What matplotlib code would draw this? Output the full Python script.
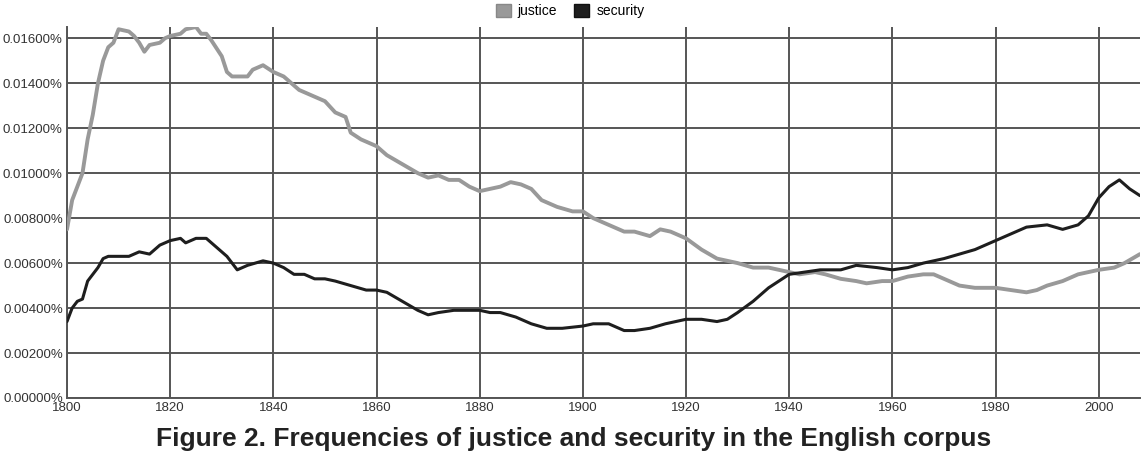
import matplotlib.pyplot as plt
from matplotlib.patches import Patch
from matplotlib.ticker import FuncFormatter

# justice (percent of corpus)
justice_years = [1800, 1801, 1803, 1804, 1805, 1806, 1807, 1808, 1809, 1810,
                 1812, 1813, 1814, 1815, 1816, 1818, 1819, 1820, 1822, 1823,
                 1825, 1826, 1827, 1828, 1830, 1831, 1832, 1834, 1835, 1836,
                 1838, 1840, 1842, 1844, 1845, 1847, 1850, 1852, 1854, 1855,
                 1857, 1860, 1862, 1865, 1868, 1870, 1872, 1874, 1876, 1878,
                 1880, 1882, 1884, 1886, 1888, 1890, 1892, 1895, 1898, 1900,
                 1902, 1905, 1908, 1910, 1913, 1915, 1917, 1920, 1923, 1926,
                 1930, 1933, 1936, 1940, 1942, 1945, 1947, 1950, 1953, 1955,
                 1958, 1960, 1963, 1966, 1968, 1970, 1973, 1976, 1980, 1983,
                 1986, 1988, 1990, 1993, 1996, 2000, 2003, 2005, 2008]
justice = [0.0075, 0.0088, 0.0100, 0.0115, 0.0126, 0.0140, 0.0150, 0.0156, 0.0158, 0.0164,
           0.0163, 0.0161, 0.0158, 0.0154, 0.0157, 0.0158, 0.0160, 0.0161, 0.0162, 0.0164,
           0.0165, 0.0162, 0.0162, 0.0159, 0.0152, 0.0145, 0.0143, 0.0143, 0.0143, 0.0146,
           0.0148, 0.0145, 0.0143, 0.0139, 0.0137, 0.0135, 0.0132, 0.0127, 0.0125, 0.0118,
           0.0115, 0.0112, 0.0108, 0.0104, 0.0100, 0.0098, 0.0099, 0.0097, 0.0097, 0.0094,
           0.0092, 0.0093, 0.0094, 0.0096, 0.0095, 0.0093, 0.0088, 0.0085, 0.0083, 0.0083,
           0.0080, 0.0077, 0.0074, 0.0074, 0.0072, 0.0075, 0.0074, 0.0071, 0.0066, 0.0062,
           0.0060, 0.0058, 0.0058, 0.0056, 0.0055, 0.0056, 0.0055, 0.0053, 0.0052, 0.0051,
           0.0052, 0.0052, 0.0054, 0.0055, 0.0055, 0.0053, 0.0050, 0.0049, 0.0049, 0.0048,
           0.0047, 0.0048, 0.0050, 0.0052, 0.0055, 0.0057, 0.0058, 0.0060, 0.0064]

# security (percent of corpus)
security_years = [1800, 1801, 1802, 1803, 1804, 1805, 1806, 1807, 1808, 1810,
                  1812, 1814, 1816, 1818, 1820, 1822, 1823, 1825, 1827, 1829,
                  1831, 1833, 1835, 1838, 1840, 1842, 1844, 1846, 1848, 1850,
                  1852, 1855, 1858, 1860, 1862, 1865, 1868, 1870, 1872, 1875,
                  1878, 1880, 1882, 1884, 1887, 1890, 1893, 1896, 1900, 1902,
                  1905, 1908, 1910, 1913, 1916, 1920, 1923, 1926, 1928, 1930,
                  1933, 1936, 1938, 1940, 1943, 1946, 1950, 1953, 1957, 1960,
                  1963, 1966, 1970, 1973, 1976, 1980, 1983, 1986, 1990, 1993,
                  1996, 1998, 2000, 2002, 2004, 2006, 2008]
security = [0.0034, 0.0040, 0.0043, 0.0044, 0.0052, 0.0055, 0.0058, 0.0062, 0.0063, 0.0063,
            0.0063, 0.0065, 0.0064, 0.0068, 0.0070, 0.0071, 0.0069, 0.0071, 0.0071, 0.0067,
            0.0063, 0.0057, 0.0059, 0.0061, 0.0060, 0.0058, 0.0055, 0.0055, 0.0053, 0.0053,
            0.0052, 0.0050, 0.0048, 0.0048, 0.0047, 0.0043, 0.0039, 0.0037, 0.0038, 0.0039,
            0.0039, 0.0039, 0.0038, 0.0038, 0.0036, 0.0033, 0.0031, 0.0031, 0.0032, 0.0033,
            0.0033, 0.0030, 0.0030, 0.0031, 0.0033, 0.0035, 0.0035, 0.0034, 0.0035, 0.0038,
            0.0043, 0.0049, 0.0052, 0.0055, 0.0056, 0.0057, 0.0057, 0.0059, 0.0058, 0.0057,
            0.0058, 0.0060, 0.0062, 0.0064, 0.0066, 0.0070, 0.0073, 0.0076, 0.0077, 0.0075,
            0.0077, 0.0081, 0.0089, 0.0094, 0.0097, 0.0093, 0.0090]

x_ticks = list(range(1800, 2001, 20))
y_ticks = [0.0, 0.002, 0.004, 0.006, 0.008, 0.010, 0.012, 0.014, 0.016]

plt.rcParams["font.family"] = ["Liberation Sans", "DejaVu Sans"]

fig = plt.figure(figsize=(11.47, 4.51), dpi=100)
ax = fig.add_axes([67 / 1147, 1 - 398 / 451, (1140 - 67) / 1147, (398 - 27) / 451])

ax.plot(justice_years, justice, color="#999999", lw=2.8, solid_capstyle="round", zorder=3)
ax.plot(security_years, security, color="#1e1e1e", lw=2.2, solid_capstyle="round", zorder=3)

ax.set_xlim(1800, 2008)
ax.set_ylim(0, 0.0165)
ax.set_xticks(x_ticks)
ax.set_yticks(y_ticks)
ax.yaxis.set_major_formatter(FuncFormatter(lambda v, p: f"{v:.5f}%"))
ax.tick_params(axis="y", length=0, labelsize=9.5, colors="#333333", pad=3)
ax.tick_params(axis="x", length=0, labelsize=9.5, colors="#333333", pad=3)
ax.grid(True, color="#555555", lw=1.4, zorder=1)
for s in ["top", "right"]:
    ax.spines[s].set_visible(False)
for s in ["left", "bottom"]:
    ax.spines[s].set_color("#555555")
    ax.spines[s].set_linewidth(1.4)

handles = [Patch(facecolor="#999999", edgecolor="#888888", label="justice"),
           Patch(facecolor="#1e1e1e", edgecolor="#111111", label="security")]
fig.legend(handles=handles, loc="center", bbox_to_anchor=(570 / 1147, 1 - 11 / 451),
           ncol=2, frameon=False, fontsize=10, handlelength=1.1, handleheight=1.1,
           columnspacing=1.2, handletextpad=0.5)

fig.text(0.5, 1 - 439 / 451, "Figure 2. Frequencies of justice and security in the English corpus",
         ha="center", va="center", fontsize=19, fontweight="bold", color="#222222")

fig.savefig("out.png", dpi=100)
